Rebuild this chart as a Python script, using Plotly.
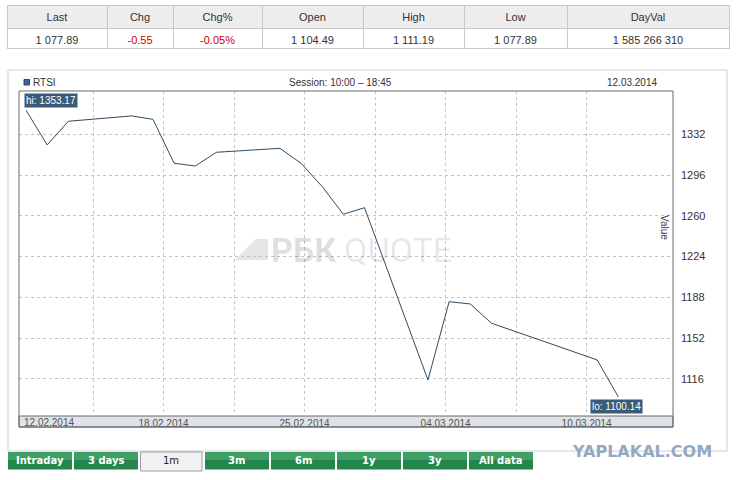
"""
RTSI index, 1 month view (12.02.2014 - 12.03.2014), RBC Quote style
"""

import plotly.graph_objects as go

# ============================================================
# DATA
# ============================================================

table_headers = ["Last", "Chg", "Chg%", "Open", "High", "Low", "DayVal"]
table_values = ["1 077.89", "-0.55", "-0.05%", "1 104.49", "1 111.19", "1 077.89", "1 585 266 310"]

dates = [
    "2014-02-12", "2014-02-13", "2014-02-14", "2014-02-17", "2014-02-18",
    "2014-02-19", "2014-02-20", "2014-02-21", "2014-02-24", "2014-02-25",
    "2014-02-26", "2014-02-27", "2014-02-28", "2014-03-03", "2014-03-04",
    "2014-03-05", "2014-03-06", "2014-03-11", "2014-03-12",
]
rtsi = [
    1353.17, 1322.6, 1343.5, 1348.2, 1345.2,
    1306.4, 1304.0, 1316.1, 1319.6, 1306.4,
    1285.8, 1261.4, 1267.2, 1115.1, 1184.2,
    1182.2, 1165.2, 1132.8, 1100.14,
]

grid_dates = [
    "2014-02-15 04:00", "2014-02-18 12:00", "2014-02-21 20:00", "2014-02-25 04:00",
    "2014-02-28 12:00", "2014-03-03 20:00", "2014-03-07 04:00", "2014-03-10 12:00",
]
grid_labels = ["", "18.02.2014", "", "25.02.2014", "", "04.03.2014", "", "10.03.2014"]
first_label = "12.02.2014"

y_ticks = [1116, 1152, 1188, 1224, 1260, 1296, 1332]

buttons = ["Intraday", "3 days", "1m", "3m", "6m", "1y", "3y", "All data"]
selected = "1m"

W, H = 737, 480
FONT = "Liberation Sans, Arial, sans-serif"


def px(x):
    return x / W


def py(y):
    return 1 - y / H


# ============================================================
# FIGURE
# ============================================================

fig = go.Figure()

# quote table on top
fig.add_trace(
    go.Table(
        domain=dict(x=[px(7), px(729)], y=[py(50), py(5)]),
        columnwidth=[100, 66, 89, 101, 101, 103, 162],
        header=dict(
            values=table_headers,
            fill_color="#ededed",
            line_color="#c8c8c8",
            font=dict(family=FONT, size=11, color="#333333"),
            align="center",
            height=23,
        ),
        cells=dict(
            values=[[v] for v in table_values],
            fill_color="#ffffff",
            line_color="#c8c8c8",
            font=dict(
                family=FONT,
                size=11,
                color=["#cc0000" if v.startswith("-") else "#333333" for v in table_values],
            ),
            align="center",
            height=20,
        ),
    )
)

fig.add_trace(
    go.Scatter(
        x=dates,
        y=rtsi,
        mode="lines",
        line=dict(color="#2e4a60", width=1),
        name="RTSI",
        showlegend=False,
        hoverinfo="x+y",
    )
)

hi_i = rtsi.index(max(rtsi))
lo_i = rtsi.index(min(rtsi))

annotations = [
    dict(
        x=dates[hi_i], y=rtsi[hi_i], xref="x", yref="y",
        text=f"hi: {rtsi[hi_i]:.2f}", showarrow=False,
        xanchor="left", yanchor="bottom", xshift=-2, yshift=2,
        bgcolor="#3b5a78", borderpad=1,
        font=dict(family=FONT, size=10, color="#ffffff"),
    ),
    dict(
        x=dates[lo_i], y=rtsi[lo_i], xref="x", yref="y",
        text=f"lo: {rtsi[lo_i]:.2f}", showarrow=False,
        xanchor="center", yanchor="top", xshift=-2, yshift=-2,
        bgcolor="#3b5a78", borderpad=1,
        font=dict(family=FONT, size=10, color="#ffffff"),
    ),
    # header line of the chart panel
    dict(x=px(31), y=py(82), xref="paper", yref="paper", text="RTSI",
         showarrow=False, xanchor="left", yanchor="middle",
         font=dict(family=FONT, size=10, color="#333333")),
    dict(x=px(340), y=py(82), xref="paper", yref="paper", text="Session: 10:00 – 18:45",
         showarrow=False, xanchor="center", yanchor="middle",
         font=dict(family=FONT, size=10, color="#333333")),
    dict(x=px(659), y=py(82), xref="paper", yref="paper", text="12.03.2014",
         showarrow=False, xanchor="right", yanchor="middle",
         font=dict(family=FONT, size=10, color="#333333")),
    dict(x=px(22), y=py(422), xref="paper", yref="paper", text=first_label,
         showarrow=False, xanchor="left", yanchor="middle",
         font=dict(family=FONT, size=10, color="#555555")),
    dict(x=px(665), y=py(227), xref="paper", yref="paper", text="Value",
         showarrow=False, textangle=90, xanchor="center", yanchor="middle",
         font=dict(family=FONT, size=10, color="#444444")),
    # watermark
    dict(x=px(339), y=py(250), xref="paper", yref="paper", text="<b>РБК</b>",
         showarrow=False, xanchor="right", yanchor="middle",
         font=dict(family="Roboto, sans-serif", size=34, color="rgba(0,0,0,0.13)")),
    dict(x=px(342), y=py(250), xref="paper", yref="paper", text="QUOTE",
         showarrow=False, xanchor="left", yanchor="middle",
         font=dict(family="Roboto, sans-serif", size=34, color="rgba(0,0,0,0.10)")),
    dict(x=px(642), y=py(451), xref="paper", yref="paper", text="<b>YAPLAKAL.COM</b>",
         showarrow=False, xanchor="center", yanchor="middle",
         font=dict(family="DejaVu Sans, sans-serif", size=16, color="#93a9c0")),
]

shapes = [
    # chart panel border
    dict(type="rect", xref="paper", yref="paper",
         x0=px(8), x1=px(727), y0=py(451), y1=py(70),
         line=dict(color="#cfcfcf", width=1), layer="below"),
    # date strip under the plot
    dict(type="rect", xref="paper", yref="paper",
         x0=px(19), x1=px(673), y0=py(427), y1=py(416),
         fillcolor="#dfe3e8", line=dict(color="#6b6b6b", width=1), layer="below"),
    # plot frame
    dict(type="rect", xref="paper", yref="paper",
         x0=px(19), x1=px(673), y0=py(427), y1=py(91),
         line=dict(color="#6b6b6b", width=1), layer="above"),
    # legend square
    dict(type="rect", xref="paper", yref="paper",
         x0=px(24), x1=px(29.5), y0=py(85), y1=py(79.5),
         fillcolor="#3a6494", line=dict(color="#27496e", width=1)),
    # watermark logo
    dict(type="path", xref="paper", yref="paper",
         path=f"M {px(235)},{py(260)} L {px(256)},{py(239)} L {px(268)},{py(239)} "
              f"L {px(268)},{py(260)} Z",
         fillcolor="rgba(0,0,0,0.10)", line=dict(width=0), layer="below"),
]

# period buttons
left = 8
for b in buttons:
    w = 62 if b == selected else 64
    if b == selected:
        shapes.append(dict(type="rect", xref="paper", yref="paper",
                           x0=px(left + 0.5), x1=px(left + w), y0=py(471), y1=py(452),
                           fillcolor="#f1f1f1", line=dict(color="#9c9c9c", width=1)))
        color, text = "#222222", b
    else:
        shapes.append(dict(type="rect", xref="paper", yref="paper",
                           x0=px(left), x1=px(left + w), y0=py(469.5), y1=py(452),
                           fillcolor="#24864b", line=dict(width=0)))
        shapes.append(dict(type="rect", xref="paper", yref="paper",
                           x0=px(left), x1=px(left + w), y0=py(460), y1=py(452),
                           fillcolor="#3fa066", line=dict(width=0)))
        color, text = "#ffffff", f"<b>{b}</b>"
    annotations.append(dict(
        x=px(left + w / 2), y=py(460.5), xref="paper", yref="paper", text=text,
        showarrow=False, xanchor="center", yanchor="middle",
        font=dict(family="DejaVu Sans, sans-serif", size=10, color=color),
    ))
    left += w + 2 if b != selected else w + 3

fig.update_layout(
    width=W,
    height=H,
    margin=dict(l=0, r=0, t=0, b=0),
    paper_bgcolor="#ffffff",
    plot_bgcolor="rgba(0,0,0,0)",
    showlegend=False,
    font=dict(family=FONT, size=10, color="#333333"),
    xaxis=dict(
        type="date",
        domain=[px(19), px(673)],
        range=["2014-02-11 16:00", "2014-03-14 14:00"],
        tickvals=grid_dates,
        ticktext=grid_labels,
        showgrid=True,
        gridcolor="#c4c4c4",
        griddash="dot",
        gridwidth=1,
        zeroline=False,
        showline=False,
        ticks="",
        tickfont=dict(family=FONT, size=10, color="#555555"),
        ticklabelstandoff=0,
        fixedrange=True,
    ),
    yaxis=dict(
        domain=[py(416), py(91)],
        range=[1083.3, 1370.2],
        side="right",
        tickvals=y_ticks,
        showgrid=True,
        gridcolor="#c4c4c4",
        griddash="dot",
        gridwidth=1,
        zeroline=False,
        showline=False,
        ticks="",
        ticklabelstandoff=7,
        tickfont=dict(family=FONT, size=11, color="#333333"),
        fixedrange=True,
    ),
    shapes=shapes,
    annotations=annotations,
)

# page body has a default 8px margin; drop it so the figure sits at the window corner
fig.write_html(
    "out.html",
    config={"displayModeBar": False},
    post_script="document.body.style.margin='0';",
)
